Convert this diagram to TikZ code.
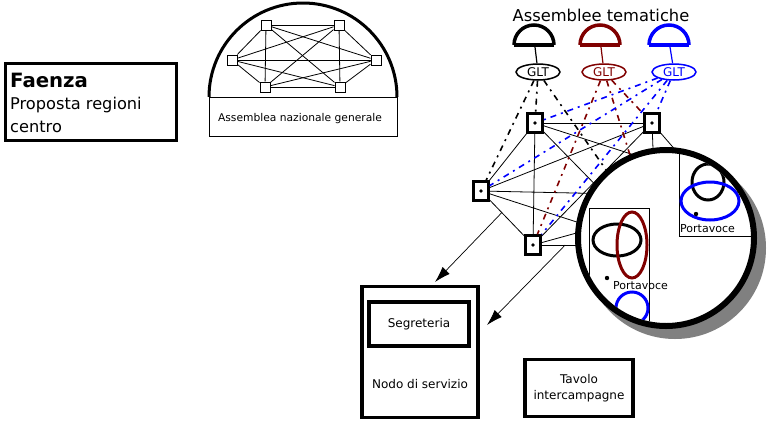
\documentclass[tikz,border=0pt]{standalone}
\usepackage{fontspec}
\setmainfont{DejaVu Sans}
\usetikzlibrary{calc, positioning}
\usetikzlibrary{arrows.meta}
\usetikzlibrary{shapes.geometric}
\definecolor{darkred}{RGB}{128,0,0}
\definecolor{thblue}{RGB}{0,0,255}
\definecolor{shadowgray}{RGB}{128,128,128}
\tikzset{
  knot/.style={draw, fill=white, line width=1pt, minimum size=10pt, inner sep=0pt},
  member/.style={draw, fill=white, line width=2.5pt, minimum width=15pt, minimum height=19pt, inner sep=0pt},
  glt/.style={draw, ellipse, fill=white, line width=1.5pt, minimum width=44pt, minimum height=16pt, inner sep=0pt},
  link/.style={line width=0.8pt},
  themeline/.style={line width=1.6pt, dash pattern=on 6pt off 5pt on 2pt off 5pt},
  flow/.style={line width=0.7pt, -{Latex[length=16pt,width=10pt]}},
  txt/.style={inner sep=0pt}
}

\begin{document}
\begin{tikzpicture}[x=1pt, y=-1pt, font=\fontsize{12}{16}\selectfont]
\useasboundingbox (0,0) rectangle (768,421);

\draw[line width=3pt] (5,63) rectangle (176,140);
\node[txt, anchor=base west, font=\bfseries\fontsize{19.7}{20}\selectfont] (title) at (10,87) {Faenza};
\node[txt, anchor=base west, font=\fontsize{16.2}{18}\selectfont] (sub1) at (10,109) {Proposta regioni};
\node[txt, anchor=base west, font=\fontsize{16.2}{18}\selectfont] (sub2) at (10,132) {centro};

\draw[line width=3pt] (209,97) arc[start angle=180, end angle=0, radius=94pt];
\draw[line width=1pt] (209,97) rectangle (397,136);
\node[txt, anchor=base, font=\fontsize{10.7}{12}\selectfont] (ang) at (300,121) {Assemblea nazionale generale};
\node[knot] (n1) at (266,25) {};
\node[knot] (n2) at (339,25) {};
\node[knot] (n3) at (232,60) {};
\node[knot] (n4) at (376,60) {};
\node[knot] (n5) at (265,87) {};
\node[knot] (n6) at (340,87) {};
\foreach \i in {1,...,5} {
  \pgfmathtruncatemacro\k{\i+1}
  \foreach \j in {\k,...,6} \draw[link] (n\i) -- (n\j);
}

\node[txt, anchor=base, font=\fontsize{16.3}{18}\selectfont] (tem) at (601,21) {Assemblee tematiche};
\foreach \x/\c in {514/black, 580/darkred, 649/thblue} {
  \draw[\c, line width=3.5pt] (\x,45) arc[start angle=180, end angle=0, radius=20pt];
  \draw[\c, line width=4.5pt] (\x,45) -- ++(40,0);
}
\coordinate (t1) at (535,47);
\coordinate (t2) at (601,47);
\coordinate (t3) at (670,47);
\node[glt] (g1) at (538,72) {GLT};
\node[glt, draw=darkred, text=darkred] (g2) at (604,72) {GLT};
\node[glt, draw=thblue, text=thblue] (g3) at (674,72) {GLT};
\draw[line width=1.2pt] (t1) -- (g1);
\draw[darkred, line width=1.2pt] (t2) -- (g2);
\draw[thblue, line width=1.2pt] (t3) -- (g3);

\node[member] (A) at (535,123) {};
\node[member] (B) at (652,123) {};
\node[member] (C) at (481,191) {};
\node[member] (D) at (533,245) {};
\coordinate (a1) at (620,210);
\coordinate (a2) at (690,173);
\coordinate (b1) at (654,175);
\coordinate (b2) at (684,160);
\coordinate (c1) at (620,194);
\coordinate (c2) at (620,236);
\coordinate (d1) at (620,221);
\coordinate (d2) at (620,245);
\coordinate (k1) at (620,190);
\coordinate (k2) at (644,200);
\draw[link] (A) -- (B);
\draw[link] (A) -- (C);
\draw[link] (A) -- (D);
\draw[link] (B) -- (C);
\draw[link] (B) -- (D);
\draw[link] (C) -- (D);
\draw[link] (A) -- (a1);
\draw[link] (A) -- (a2);
\draw[link] (B) -- (b1);
\draw[link] (B) -- (b2);
\draw[link] (C) -- (c1);
\draw[link] (C) -- (c2);
\draw[link] (D) -- (d1);
\draw[link] (D) -- (d2);
\draw[themeline] (g1) -- (A);
\draw[themeline] (g1) -- (C);
\draw[themeline] (g1) -- (k1);
\draw[themeline, darkred] (g2) -- (B);
\draw[themeline, darkred] (g2) -- (D);
\draw[themeline, darkred] (g2) -- (k2);
\draw[themeline, thblue] (g3) -- (A);
\draw[themeline, thblue] (g3) -- (B);
\draw[themeline, thblue] (g3) -- (C);
\draw[themeline, thblue] (g3) -- (D);
\foreach \n in {A,B,C,D} \fill (\n) circle (1.8pt);

\fill[shadowgray] (675,248) circle (91pt);
\fill[white] (666,238) circle (88pt);
\begin{scope}
\clip (666,238) circle (85pt);
\draw[line width=0.8pt] (589,290) -- (589,208) -- (649,208) -- (649,330);
\draw[line width=3pt] (617,240) ellipse (24pt and 16pt);
\draw[darkred, line width=3pt] (632,245) ellipse (15pt and 33pt);
\fill (607,278) circle (2.2pt);
\node[txt, anchor=base west, font=\fontsize{11}{12}\selectfont] (pv1) at (613,289) {Portavoce};
\draw[thblue, line width=3pt] (632,308) circle (16pt);
\draw[line width=0.8pt] (679,150) -- (679,236) -- (752,236);
\draw[line width=3pt] (708,182) ellipse (16pt and 18pt);
\draw[thblue, line width=3pt] (710,201) ellipse (29pt and 19pt);
\fill (696,214) circle (2.2pt);
\node[txt, anchor=base west, font=\fontsize{11}{12}\selectfont] (pv2) at (680,232) {Portavoce};
\end{scope}
\draw[line width=6pt] (666,238) circle (88pt);

\node[draw, line width=3.5pt, minimum width=116pt, minimum height=131pt] (nodo) at (420,352) {};
\node[draw, line width=4pt, minimum width=100pt, minimum height=44pt] (seg) at (419,324) {Segreteria};
\node[txt, anchor=base] (nodolbl) at (420,388) {Nodo di servizio};
\node[draw, line width=3.5pt, minimum width=108pt, minimum height=57pt, align=center] (tavolo) at (579,388) {Tavolo\\intercampagne};

\coordinate (s1) at ($(C)!0.4!(D)$);
\coordinate (s2) at ($(D)!0.37!(d2)$);
\coordinate (e1) at (435,282);
\coordinate (e2) at (487,325);
\draw[flow] (s1) -- (e1);
\draw[flow] (s2) -- (e2);
\end{tikzpicture}
\end{document}
